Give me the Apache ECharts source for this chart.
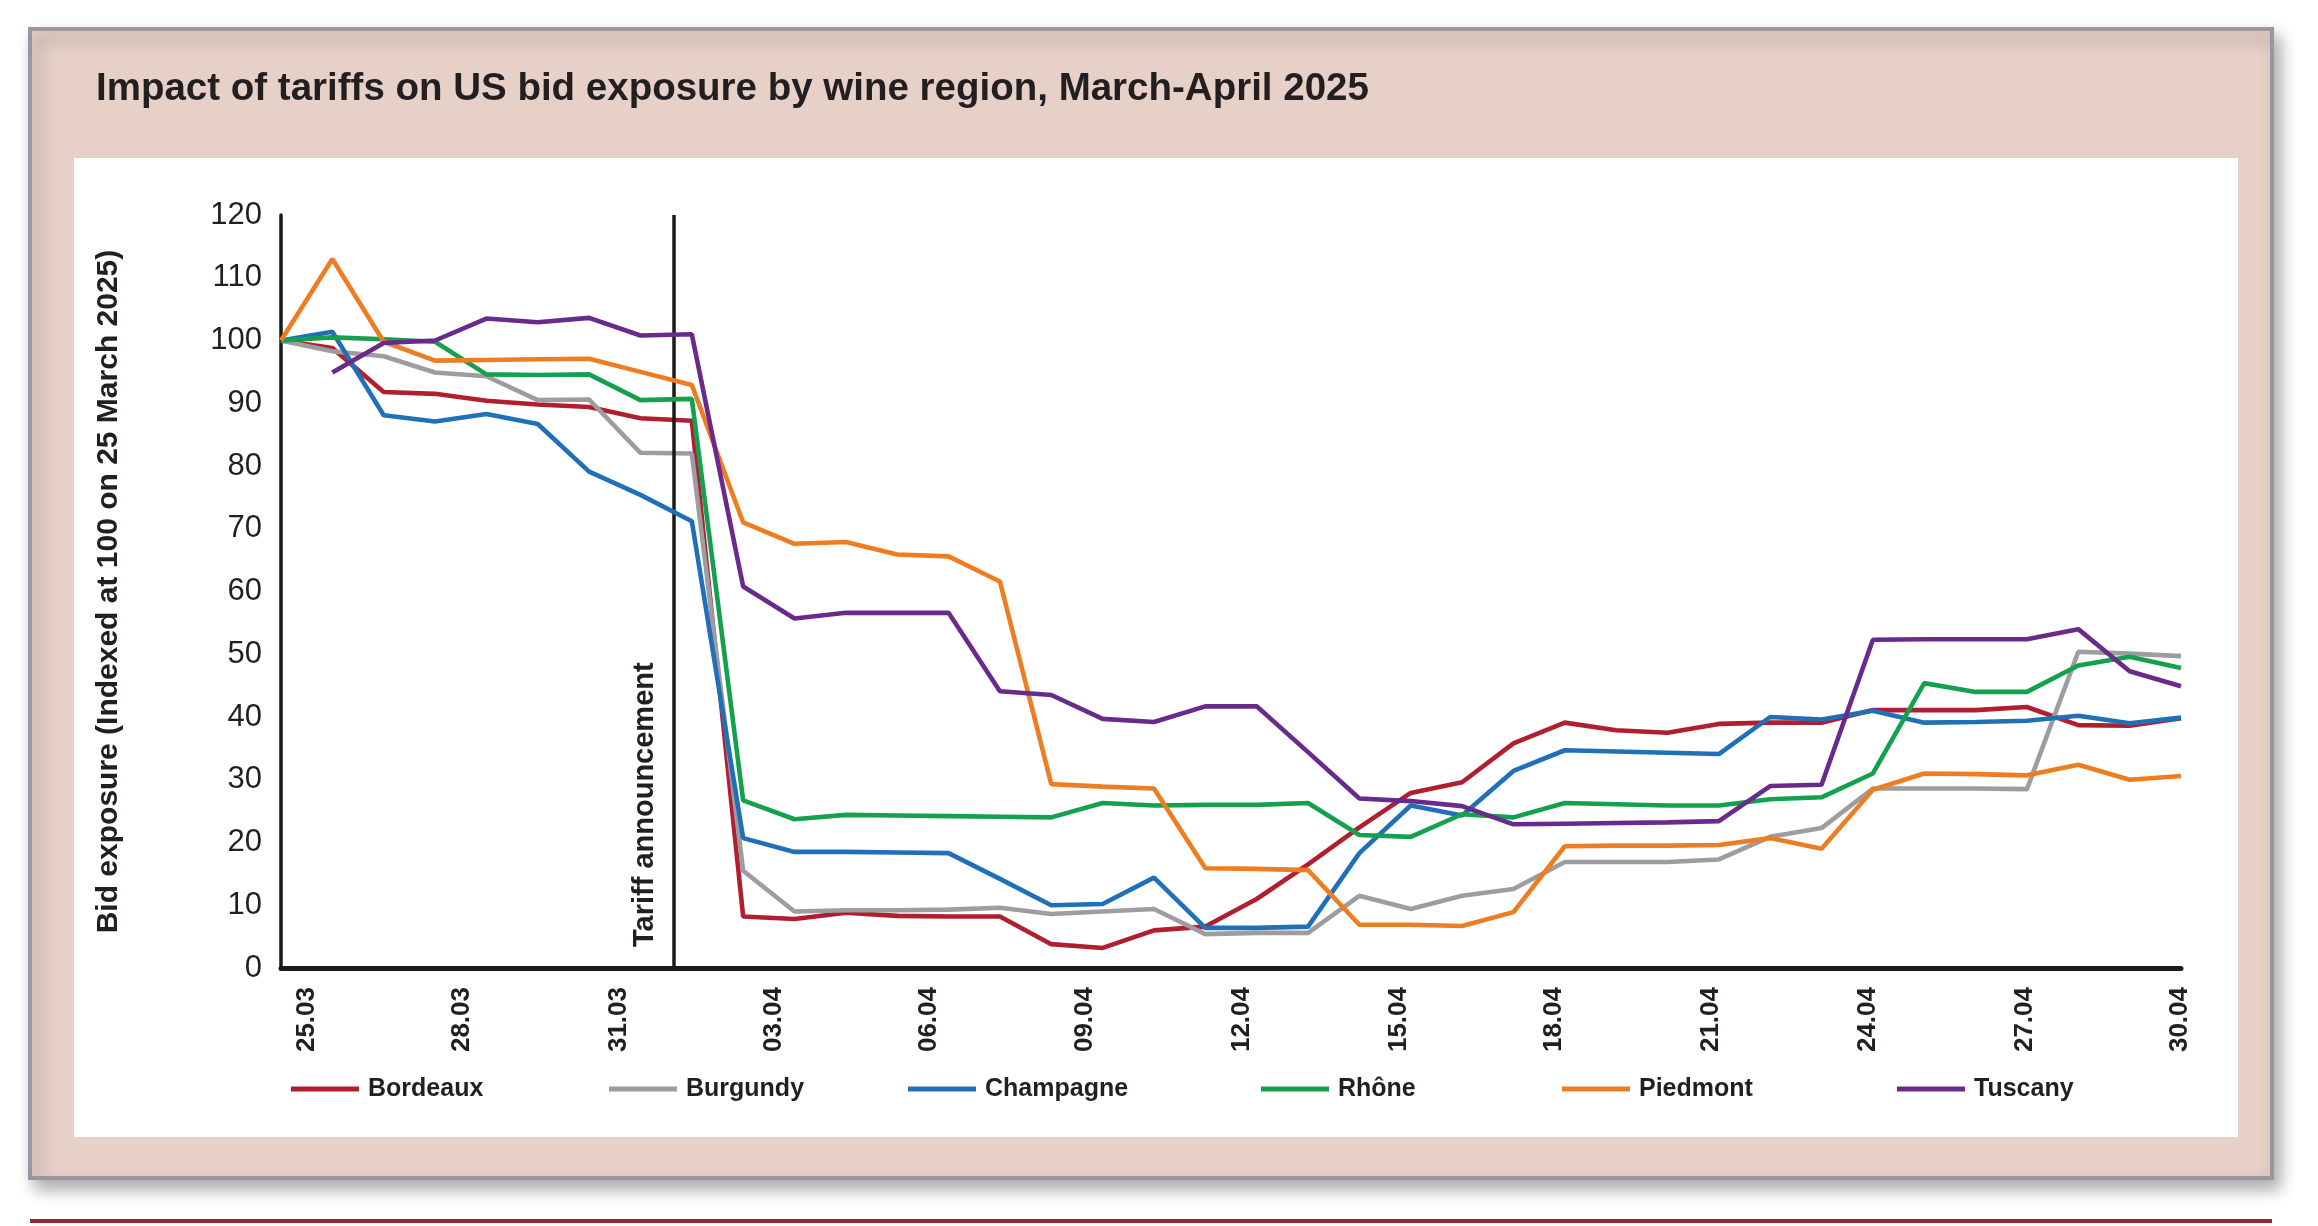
<!DOCTYPE html>
<html><head><meta charset="utf-8">
<script src="https://cdn.jsdelivr.net/npm/echarts@6/dist/echarts.min.js"></script>
<style>html,body{margin:0;padding:0;background:#fff}#c{width:2318px;height:1226px}</style>
</head><body><div id="c"></div>
<script>
// ---- data ----
const titleText = 'Impact of tariffs on US bid exposure by wine region, March-April 2025';
const yAxisTitle = 'Bid exposure (Indexed at 100 on 25 March 2025)';
const tariffLabel = 'Tariff announcement';
const tariffPosition = 7.65; // position of the announcement between observations
const tickLabels = ['25.03','28.03','31.03','03.04','06.04','09.04','12.04','15.04','18.04','21.04','24.04','27.04','30.04'];
const tickPositions = [0.5, 3.53, 6.57, 9.59, 12.62, 15.66, 18.72, 21.76, 24.79, 27.85, 30.91, 33.95, 36.97];
const yTicks = {min: 0, max: 120, step: 10};

const regions = ['Bordeaux','Burgundy','Champagne','Rhône','Piedmont','Tuscany'];
const bordeaux  = [100,98.8,91.8,91.5,90.4,89.8,89.4,87.6,87.2,8.2,7.8,8.8,8.3,8.2,8.2,3.8,3.2,6.0,6.6,11.0,16.5,22.4,27.9,29.6,35.8,39.1,37.9,37.5,38.9,39.1,39.1,41.1,41.1,41.1,41.6,38.7,38.6,39.8];
const burgundy  = [100,98.3,97.5,94.9,94.3,90.5,90.6,82.1,82.0,15.5,9.0,9.2,9.2,9.3,9.6,8.6,9.0,9.4,5.4,5.6,5.6,11.5,9.4,11.5,12.6,16.9,16.9,16.9,17.3,20.9,22.3,28.6,28.6,28.6,28.5,50.4,50.1,49.7];
const champagne = [100,101.4,88.1,87.1,88.3,86.7,79.1,75.4,71.2,20.7,18.5,18.5,18.4,18.3,14.2,10.0,10.2,14.4,6.4,6.4,6.6,18.3,25.9,24.3,31.4,34.7,34.5,34.3,34.1,40.0,39.6,41.0,39.1,39.2,39.4,40.2,39.0,39.9];
const rhone     = [100,100.5,100.2,99.8,94.6,94.5,94.6,90.5,90.7,26.7,23.7,24.4,24.3,24.2,24.1,24.0,26.3,25.9,26.0,26.0,26.3,21.2,20.9,24.5,24.0,26.3,26.1,25.9,25.9,26.9,27.2,31.0,45.4,44.0,44.0,48.2,49.6,47.8];
const piedmont  = [100,113.0,99.8,96.8,96.9,97.0,97.1,95.0,92.9,71.0,67.6,67.9,65.9,65.6,61.6,29.3,28.9,28.6,15.9,15.8,15.6,6.9,6.9,6.7,8.9,19.4,19.5,19.5,19.6,20.7,19.0,28.4,31.0,30.9,30.7,32.4,30.0,30.6];
const tuscany   = [null,94.9,99.6,100.0,103.5,102.9,103.6,100.8,101.0,60.8,55.7,56.6,56.6,56.6,44.1,43.5,39.7,39.2,41.7,41.7,34.4,27.0,26.6,25.8,22.9,23.0,23.1,23.2,23.4,29.0,29.2,52.3,52.4,52.4,52.4,54.0,47.3,44.9];
const seriesValues = [bordeaux, burgundy, champagne, rhone, piedmont, tuscany];

// ---- styles / layout ----
const colors = ['#b01f30','#9d9da1','#1f70b6','#14a04e','#ee7d22','#6a2a8c'];
const legendLeft = [291, 609, 908, 1261, 1562, 1897];
const SANS = "'Liberation Sans',Arial,sans-serif";
const INK = '#231f20';

const chart = echarts.init(document.getElementById('c'), null, {renderer: 'canvas'});

const series = regions.map((name, s) => {
  const o = {
    name, type: 'line', color: colors[s], symbol: 'none', showSymbol: false,
    lineStyle: {width: 4.6, color: colors[s]}, itemStyle: {color: colors[s]},
    emphasis: {disabled: true}, z: 3 + s,
    data: seriesValues[s].map((v, i) => [i, v])
  };
  if (s === 0) {
    o.markLine = {
      silent: true, symbol: ['none','none'], animation: false,
      lineStyle: {color: '#1a1a1a', width: 3.5, type: 'solid'},
      label: {show: true, position: 'insideStartTop', formatter: tariffLabel,
              fontFamily: SANS, fontWeight: 'bold', fontSize: 29, color: INK, distance: [21, 14]},
      emphasis: {disabled: true},
      data: [{xAxis: tariffPosition}]
    };
  }
  return o;
});

const legends = regions.map((name, s) => ({
  data: [name], left: legendLeft[s], top: 1075, padding: 0, orient: 'horizontal',
  icon: 'rect', itemWidth: 68, itemHeight: 5, selectedMode: false,
  textStyle: {fontFamily: SANS, fontWeight: 'bold', fontSize: 25, lineHeight: 28, color: INK, padding: [0,0,0,4]}
}));

chart.setOption({
  animation: false,
  backgroundColor: '#ffffff',
  graphic: [
    {type: 'rect', z: -10, shape: {x: 30, y: 29, width: 2242, height: 1149},
     style: {fill: '#e6d0c8', stroke: '#9d94a2', lineWidth: 4, shadowBlur: 16, shadowOffsetX: 6, shadowOffsetY: 9, shadowColor: 'rgba(0,0,0,0.32)'}},
    {type: 'rect', z: -9, shape: {x: 74, y: 158, width: 2164, height: 979}, style: {fill: '#ffffff'}},
    {type: 'line', z: -9, shape: {x1: 30, y1: 1221, x2: 2272, y2: 1221}, style: {stroke: '#8a2d38', lineWidth: 4}}
  ],
  title: {text: titleText, left: 96, top: 70, padding: 0,
          textStyle: {fontFamily: SANS, fontWeight: 'bold', fontSize: 38.5, lineHeight: 38, color: INK}},
  legend: legends,
  grid: {left: 281, right: 137, top: 215, bottom: 258, containLabel: false, outerBoundsMode: 'none'},
  xAxis: {
    type: 'value', min: 0, max: seriesValues[0].length - 1,
    axisLine: {show: true, onZero: false, lineStyle: {color: '#1a1a1a', width: 5}},
    axisTick: {show: false}, splitLine: {show: false},
    axisLabel: {
      customValues: tickPositions, rotate: 90, margin: 19,
      fontFamily: SANS, fontWeight: 'bold', fontSize: 26, color: INK,
      formatter: (v) => {
        let best = 0, d = Infinity;
        tickPositions.forEach((p, k) => { if (Math.abs(p - v) < d) { d = Math.abs(p - v); best = k; } });
        return tickLabels[best];
      }
    }
  },
  yAxis: {
    type: 'value', min: yTicks.min, max: yTicks.max, interval: yTicks.step,
    axisLine: {show: true, lineStyle: {color: '#1a1a1a', width: 3.5}},
    axisTick: {show: false}, splitLine: {show: false},
    axisLabel: {margin: 19, fontFamily: SANS, fontSize: 31, color: INK},
    name: yAxisTitle, nameLocation: 'middle', nameRotate: 90, nameGap: 157,
    nameTextStyle: {fontFamily: SANS, fontWeight: 'bold', fontSize: 30, color: INK}
  },
  series
});
</script>
</body></html>
